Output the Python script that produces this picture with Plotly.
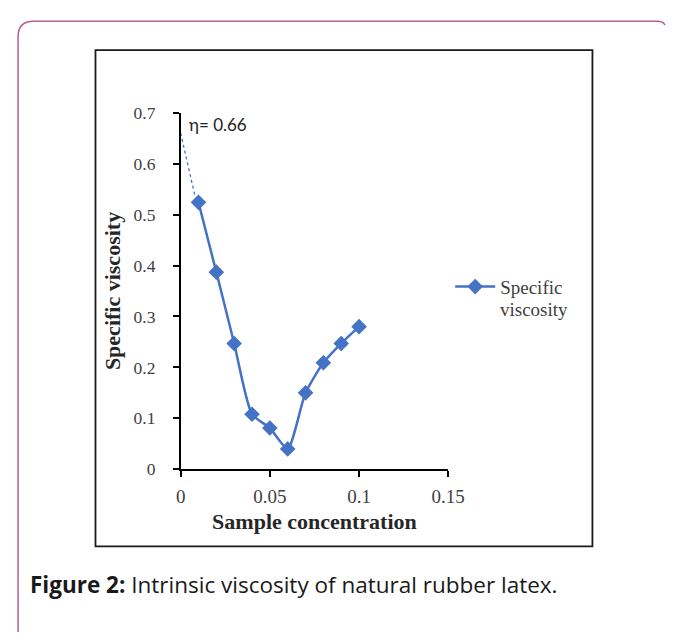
import plotly.graph_objects as go

W, H = 683, 643

# Data
conc = [0.01, 0.02, 0.03, 0.04, 0.05, 0.06, 0.07, 0.08, 0.09, 0.10]
spec_visc = [0.524, 0.387, 0.247, 0.108, 0.081, 0.040, 0.150, 0.209, 0.247, 0.280]
extrap_x = [0.0, 0.008]
extrap_y = [0.66, 0.537]
intrinsic = 0.66
x_ticks = [0, 0.05, 0.1, 0.15]
x_tick_labels = ["0", "0.05", "0.1", "0.15"]
y_ticks = [0, 0.1, 0.2, 0.3, 0.4, 0.5, 0.6, 0.7]
y_tick_labels = ["0", "0.1", "0.2", "0.3", "0.4", "0.5", "0.6", "0.7"]
legend_lines = ["Specific", "viscosity"]

BLUE = "#4472C4"
SERIF = "Liberation Serif"


def px(x):
    return x / W


def py(y):
    return 1 - y / H


fig = go.Figure()
fig.add_trace(go.Scatter(
    x=extrap_x, y=extrap_y, mode="lines",
    line=dict(color=BLUE, width=1.3, dash="dot"),
    showlegend=False, hoverinfo="skip",
))
fig.add_trace(go.Scatter(
    x=conc, y=spec_visc, mode="lines+markers",
    name=legend_lines[0],
    line=dict(color=BLUE, width=2.5, shape="spline", smoothing=0.6),
    marker=dict(symbol="diamond", size=12, color=BLUE),
))

# plot area in window pixels
x0p, x1p = 181.5, 458
y0p, y1p = 474, 106

fig.update_layout(
    width=W, height=H,
    margin=dict(l=0, r=0, t=0, b=0),
    paper_bgcolor="white", plot_bgcolor="white",
    xaxis=dict(
        domain=[px(x0p), px(x1p)], range=[0, 0.15],
        tickvals=x_ticks, ticktext=x_tick_labels,
        showgrid=False, zeroline=False,
        showline=True, linecolor="black", linewidth=1.5,
        ticks="outside", ticklen=6, tickcolor="black", tickwidth=1.5,
        ticklabelstandoff=3,
        tickfont=dict(family=SERIF, size=19, color="#404040"),
        title=dict(text="<b>Sample concentration</b>",
                   font=dict(family=SERIF, size=22, color="#262626"),
                   standoff=8),
        fixedrange=True,
    ),
    yaxis=dict(
        domain=[py(y0p), py(y1p)], range=[0, 0.7],
        tickvals=y_ticks, ticktext=y_tick_labels,
        showgrid=False, zeroline=False,
        showline=True, linecolor="black", linewidth=1.5,
        ticks="outside", ticklen=6, tickcolor="black", tickwidth=1.5,
        ticklabelstandoff=14,
        tickfont=dict(family=SERIF, size=17.5, color="#404040"),
        title=dict(text="<b>Specific viscosity</b>",
                   font=dict(family=SERIF, size=22, color="#262626"),
                   standoff=7),
        fixedrange=True,
    ),
    legend=dict(
        x=px(460), y=py(266), xanchor="left", yanchor="top",
        font=dict(family=SERIF, size=19, color="#404040"),
        bgcolor="rgba(0,0,0,0)", itemwidth=40, tracegroupgap=0,
    ),
    showlegend=True,
)

# second line of the legend label
fig.add_annotation(
    x=px(509), y=py(309), xref="paper", yref="paper",
    xanchor="left", yanchor="middle", showarrow=False,
    text=legend_lines[1],
    font=dict(family=SERIF, size=19, color="#404040"),
)

fig.add_annotation(
    x=0.0, y=intrinsic, xref="x", yref="y",
    text="η= %.2f" % intrinsic, showarrow=False,
    xanchor="left", yanchor="bottom", xshift=6, yshift=-4,
    font=dict(family="Lato", size=17, color="#222222"),
)

# inner chart frame
fig.add_shape(type="rect", xref="paper", yref="paper",
              x0=px(93.5), x1=px(607), y0=py(553.5), y1=py(41.5),
              line=dict(color="#1a1a1a", width=1.8), layer="below")

# outer rounded card border: only the visible part (kept inside the page)
L, T, r = 13.5, 11.5, 16
path = (f"M {px(L)},{py(642)} L {px(L)},{py(T + r)} "
        f"Q {px(L)},{py(T)} {px(L + r)},{py(T)} "
        f"L {px(674)},{py(T)} Q {px(680)},{py(T)} {px(682)},{py(T + 4)}")
fig.add_shape(type="path", xref="paper", yref="paper", path=path,
              line=dict(color="#b5608f", width=1.5), layer="below")

# caption
fig.add_annotation(
    x=px(24), y=py(593), xref="paper", yref="paper",
    xanchor="left", yanchor="middle", showarrow=False,
    text="<b>Figure 2:</b> Intrinsic viscosity of natural rubber latex.",
    font=dict(family="Open Sans", size=22.5, color="#1a1a1a"),
)

fig.write_html(
    "out.html",
    config={"displayModeBar": False},
    post_script="document.body.style.margin='0';document.body.style.overflow='hidden';",
)
